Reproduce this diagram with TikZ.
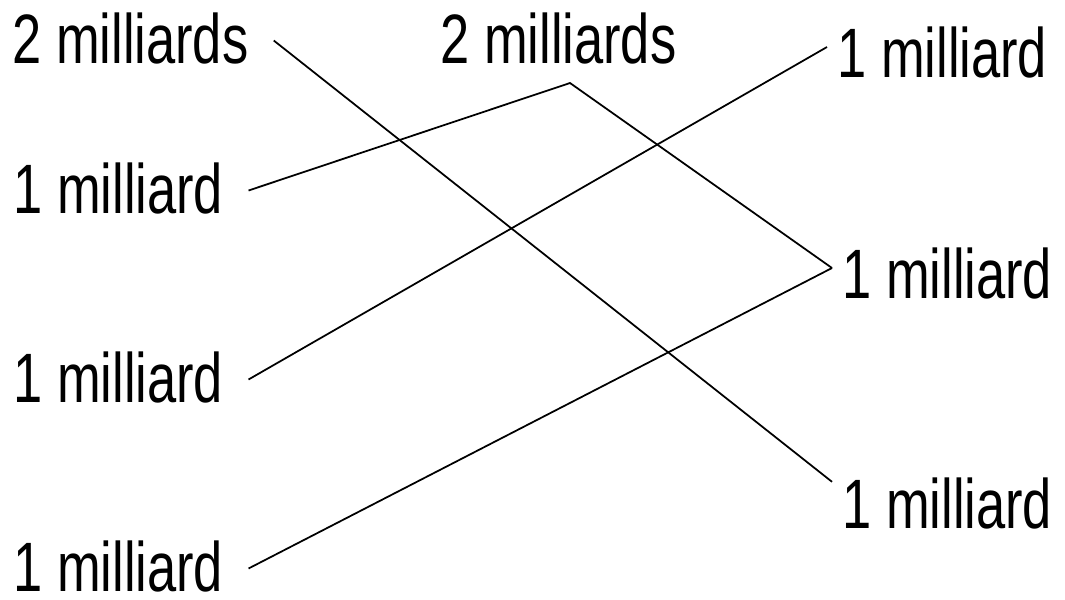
\documentclass[tikz,border=0pt]{standalone}
\usepackage{fontspec}
\setmainfont[FakeStretch=0.75]{Liberation Sans}
\usepackage{tikz}
\usetikzlibrary{positioning}

\begin{document}
\begin{tikzpicture}[
    x=0.02cm, y=-0.02cm,
    every node/.style={font=\fontsize{39.8pt}{44pt}\selectfont, text depth=0pt},
    leftlbl/.style={anchor=base west, inner xsep=0.5cm, inner ysep=0pt, text height=0.9cm},
    rightlbl/.style={anchor=base west, inner xsep=0.2cm, inner ysep=0pt, text height=1.2cm},
    link/.style={line width=1pt},
]
    \useasboundingbox (0,0) rectangle (1065,599);

    % Left column
    \node[leftlbl] (twoL) at (-13, 63) {2 milliards};
    \node[leftlbl] (oneA) at (-12, 213) {1 milliard};
    \node[leftlbl] (oneB) at (-12, 402) {1 milliard};
    \node[leftlbl] (oneC) at (-12, 591) {1 milliard};

    % Middle
    \node[anchor=base west, inner sep=0pt] (twoM) at (440, 63) {2 milliards};
    \coordinate (peak) at (570, 83);

    % Right column
    \node[rightlbl] (topR) at (827, 77) {1 milliard};
    \node[rightlbl] (midR) at (832, 298) {1 milliard};
    \node[rightlbl] (lowR) at (832, 528) {1 milliard};

    \draw[link] (twoL.east) -- (lowR.172);
    \draw[link] (oneA.east) -- (peak) -- (midR.west);
    \draw[link] (oneB.east) -- (topR.west);
    \draw[link] (oneC.east) -- (midR.west);
\end{tikzpicture}
\end{document}
